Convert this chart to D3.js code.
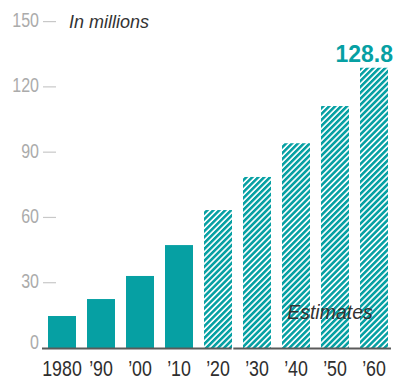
<!DOCTYPE html>
<html>
<head>
<meta charset="utf-8">
<script src="https://cdn.jsdelivr.net/npm/d3@7"></script>
<style>
  html, body { margin: 0; padding: 0; background: #fff; }
  svg { display: block; }
</style>
</head>
<body>
<svg id="chart" width="393" height="379"></svg>
<script>
// Population by decade, in millions (2020 onward are estimates)
const decades = ["1980", "\u201990", "\u201900", "\u201910", "\u201920", "\u201930", "\u201940", "\u201950", "\u201960"];
const population = [14.7, 22.5, 33.1, 47.3, 63.4, 78.6, 94.1, 111.2, 128.8];
const isEstimate = [false, false, false, false, true, true, true, true, true];
const yTicks = [0, 30, 60, 90, 120, 150];

const teal = "#06a0a3";
const sans = "'Liberation Sans', Arial, sans-serif";
const svg = d3.select("#chart");

const x = d3.scaleBand().domain(decades).range([48, 388]).paddingInner(0.282).paddingOuter(0);
const y = d3.scaleLinear().domain([0, 150]).range([348, 21.6]);

// condensed-looking label: regular face squeezed horizontally
function narrowText(parent, px, py, str, opts) {
  const g = parent.append("g").attr("transform", `translate(${px},${py}) scale(${opts.sx},1)`);
  return g.append("text")
    .attr("text-anchor", opts.anchor)
    .attr("dy", opts.dy || null)
    .attr("font-family", sans)
    .attr("font-size", opts.size)
    .attr("fill", opts.fill)
    .text(str);
}

// diagonal hatch for projected values
const defs = svg.append("defs");
const pat = defs.append("pattern")
  .attr("id", "hatch")
  .attr("patternUnits", "userSpaceOnUse")
  .attr("width", 4.2).attr("height", 8)
  .attr("patternTransform", "rotate(45)");
pat.append("rect").attr("x", 0).attr("y", 0).attr("width", 2.6).attr("height", 8).attr("fill", teal);

// y axis: light ticks and labels
const fmt = d3.format("d");
const gy = svg.append("g");
yTicks.forEach(v => {
  if (v > 0) {
    gy.append("line")
      .attr("x1", 43).attr("x2", 56)
      .attr("y1", y(v)).attr("y2", y(v))
      .attr("stroke", "#c8c8c8").attr("stroke-width", 1.2);
  }
  narrowText(gy, 39, v === 0 ? y(v) - 6 : y(v) - 1.5, fmt(v),
    { sx: 0.8, anchor: "end", dy: "0.35em", size: 20, fill: "#ababab" });
});

// bars
svg.append("g").selectAll("rect")
  .data(decades.map((d, i) => ({ d, v: population[i], est: isEstimate[i] })))
  .join("rect")
  .attr("x", p => x(p.d))
  .attr("width", x.bandwidth())
  .attr("y", p => y(p.v))
  .attr("height", p => y(0) - y(p.v))
  .attr("fill", p => p.est ? "url(#hatch)" : teal);

// baseline, split between measured and projected decades
const split = x(decades[4]) + x.bandwidth() + 0.5;
svg.append("line").attr("x1", 42).attr("x2", split - 0.8)
  .attr("y1", 348.5).attr("y2", 348.5).attr("stroke", "#5a5a5a").attr("stroke-width", 2);
svg.append("line").attr("x1", split + 0.8).attr("x2", 391)
  .attr("y1", 348.5).attr("y2", 348.5).attr("stroke", "#5a5a5a").attr("stroke-width", 2);

// x axis labels
const gx = svg.append("g");
decades.forEach(d => {
  narrowText(gx, x(d) + x.bandwidth() / 2, 376, d,
    { sx: 0.79, anchor: "middle", size: 22.5, fill: "#2e2e2e" });
});

// unit note
svg.append("text")
  .attr("x", 69).attr("y", 27.5)
  .attr("font-family", sans)
  .attr("font-style", "italic")
  .attr("font-size", 18)
  .attr("fill", "#333")
  .text("In millions");

// value label on the last bar
const last = decades.length - 1;
svg.append("text")
  .attr("x", 393).attr("y", y(population[last]) - 6)
  .attr("text-anchor", "end")
  .attr("font-family", sans)
  .attr("font-weight", "bold")
  .attr("font-size", 23)
  .attr("fill", teal)
  .text(population[last].toFixed(1));

// estimates note
svg.append("text")
  .attr("x", 330).attr("y", 319)
  .attr("text-anchor", "middle")
  .attr("font-family", sans)
  .attr("font-style", "italic")
  .attr("font-size", 19.5)
  .attr("fill", "#333")
  .text("Estimates");
</script>
</body>
</html>
